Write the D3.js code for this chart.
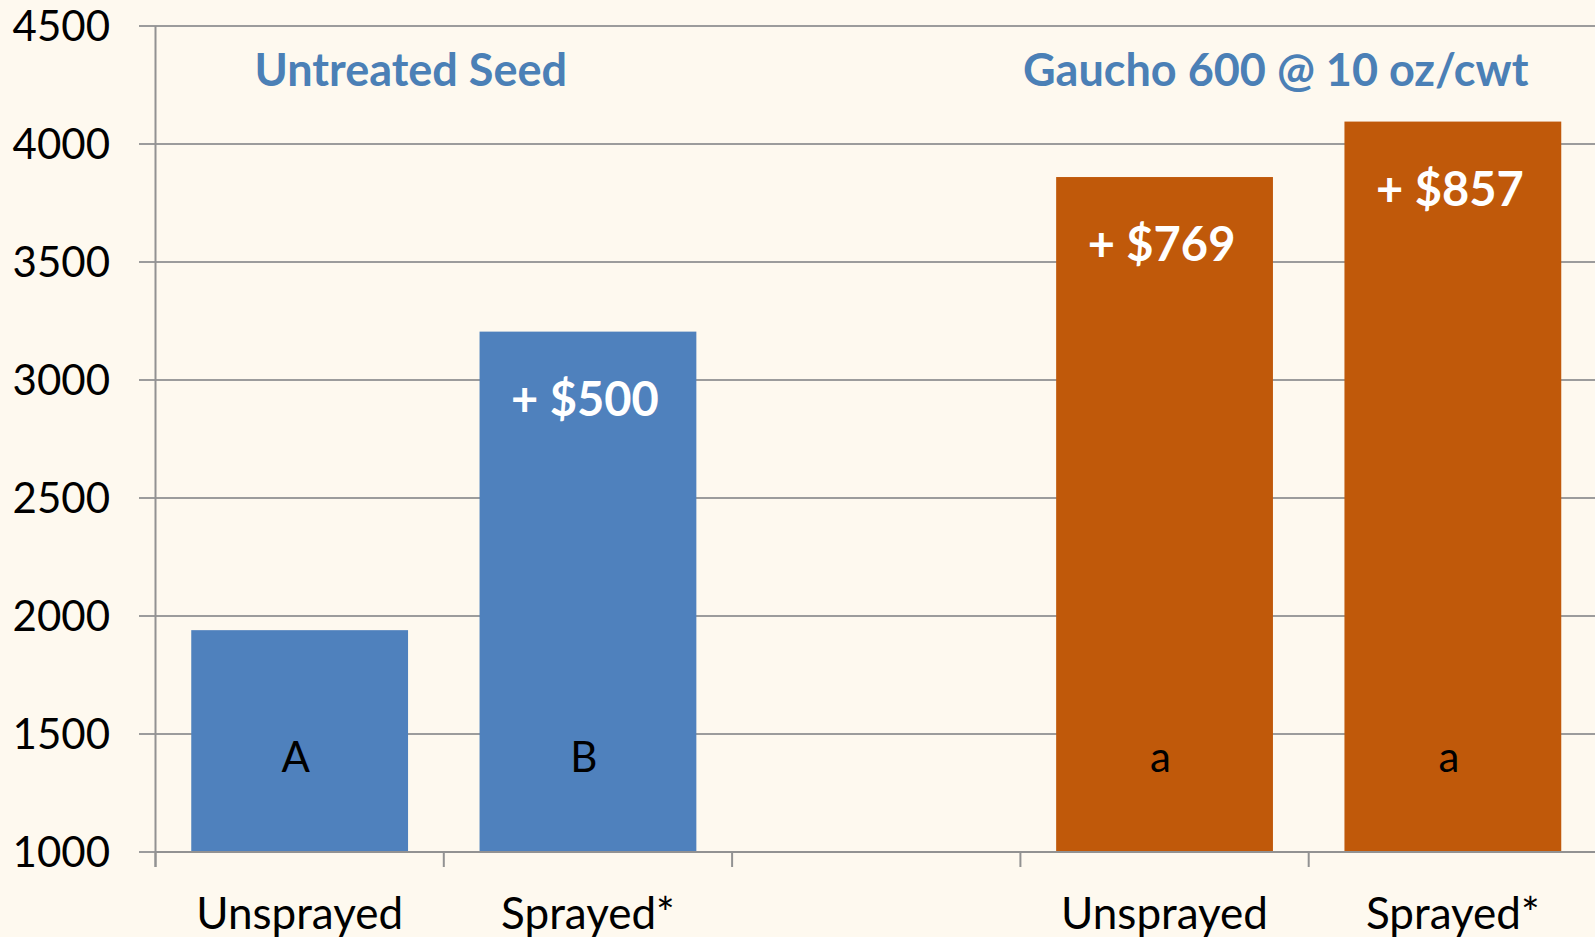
<!DOCTYPE html>
<head>
    <meta charset="utf-8">
    <script src="https://d3js.org/d3.v7.min.js"></script>
    <style>
        html, body { padding: 0; margin: 0; background: #fef9ef; overflow: hidden; }
        svg { display: block; font-family: Lato, "Open Sans", sans-serif; }
        .grid line { stroke: #9c9c9c; stroke-width: 2; }
        .axis path, .axis line { stroke: #929292; stroke-width: 2; }
    </style>
</head>

<body>
<svg width="1595" height="937"></svg>
<script>
    // slots on the x axis (slot 2 is the empty gap between groups)
    var slotLabels = ["Unsprayed", "Sprayed*", "", "Unsprayed", "Sprayed*"];
    var barSlots = [0, 1, 3, 4];
    var yields = [1940, 3205, 3860, 4095];
    var gains = ["", "+ $500", "+ $769", "+ $857"];
    var letters = ["A", "B", "a", "a"];
    var barGroup = [0, 0, 1, 1];
    var groupNames = ["Untreated Seed", "Gaucho 600 @ 10 oz/cwt"];
    var groupSlots = [[0, 1], [3, 4]];
    var yTicks = [1000, 1500, 2000, 2500, 3000, 3500, 4000, 4500];

    var blue = "#4f81bd", orange = "#c0590a", titleBlue = "#4b80b6";
    var colors = [blue, orange];

    var svg = d3.select("svg");

    var x = d3.scaleBand()
        .domain(d3.range(slotLabels.length))
        .range([155.5, 155.5 + 5 * 288.3])
        .padding(0);

    var y = d3.scaleLinear()
        .domain([1000, 4500])
        .range([852, 26]);

    var bw = x.bandwidth();

    // horizontal grid lines
    svg.append("g")
        .attr("class", "grid")
        .selectAll("line")
        .data(yTicks)
        .enter().append("line")
        .attr("x1", 139)
        .attr("x2", 1595)
        .attr("y1", function(d) { return y(d); })
        .attr("y2", function(d) { return y(d); });

    // y axis labels
    svg.append("g")
        .selectAll("text")
        .data(yTicks)
        .enter().append("text")
        .attr("x", 110)
        .attr("y", function(d) { return y(d); })
        .attr("dy", "0.36em")
        .attr("text-anchor", "end")
        .style("font-size", "42px")
        .attr("fill", "#000")
        .text(function(d) { return d; });

    // bars
    var bars = svg.append("g")
        .selectAll("g")
        .data(yields)
        .enter().append("g");

    bars.append("rect")
        .attr("x", function(d, i) { return x(barSlots[i]) + bw * 0.124; })
        .attr("width", bw * 0.752)
        .attr("y", function(d) { return y(d); })
        .attr("height", function(d) { return y(1000) - y(d); })
        .attr("fill", function(d, i) { return colors[barGroup[i]]; });

    bars.append("text")
        .attr("x", function(d, i) { return x(barSlots[i]) + bw / 2 - 3; })
        .attr("y", function(d) { return y(d) + 84; })
        .attr("text-anchor", "middle")
        .attr("fill", "#fff")
        .style("font-size", "47px")
        .style("font-weight", "bold")
        .text(function(d, i) { return gains[i]; });

    bars.append("text")
        .attr("x", function(d, i) { return x(barSlots[i]) + bw / 2 - 4; })
        .attr("y", y(1000) - 80)
        .attr("text-anchor", "middle")
        .attr("fill", "#000")
        .style("font-size", "42px")
        .text(function(d, i) { return letters[i]; });

    // group titles
    svg.append("g")
        .selectAll("text")
        .data(groupNames)
        .enter().append("text")
        .attr("x", function(d, i) {
            var s = groupSlots[i];
            return (x(s[0]) + x(s[1]) + bw) / 2 - 33;
        })
        .attr("y", y(4500) + 60)
        .attr("text-anchor", "middle")
        .attr("fill", titleBlue)
        .style("font-size", "45px")
        .style("font-weight", "bold")
        .text(function(d) { return d; });

    // x axis: baseline, ticks at slot boundaries, labels centred in slots
    var xa = svg.append("g").attr("class", "axis");
    xa.append("line")
        .attr("x1", x.range()[0]).attr("x2", 1595)
        .attr("y1", y(1000)).attr("y2", y(1000));
    xa.append("line")
        .attr("x1", x.range()[0]).attr("x2", x.range()[0])
        .attr("y1", y(4500)).attr("y2", y(1000) + 15);
    xa.selectAll(".tick")
        .data(d3.range(slotLabels.length))
        .enter().append("line")
        .attr("class", "tick")
        .attr("x1", function(d) { return x(d); })
        .attr("x2", function(d) { return x(d); })
        .attr("y1", y(1000))
        .attr("y2", y(1000) + 15);
    xa.selectAll(".lbl")
        .data(slotLabels)
        .enter().append("text")
        .attr("class", "lbl")
        .attr("x", function(d, i) { return x(i) + bw / 2; })
        .attr("y", 929)
        .attr("text-anchor", "middle")
        .attr("fill", "#000")
        .style("font-size", "44px")
        .text(function(d) { return d; });
</script>
</body>
